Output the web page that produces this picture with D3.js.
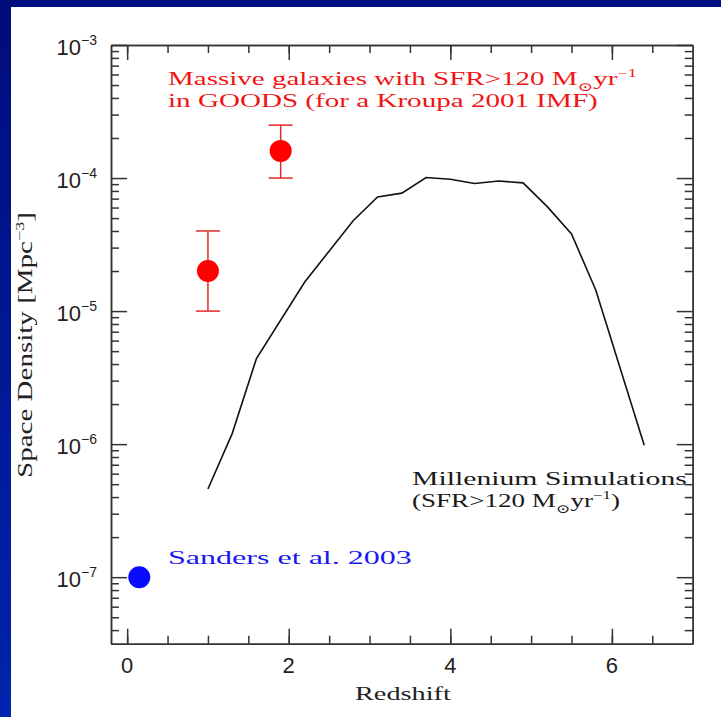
<!DOCTYPE html>
<meta charset="utf-8">
<style>
  body { margin: 0; background: #fff; }
  svg { display: block; }
  .serif { font-family: "Liberation Serif", "DejaVu Serif", serif; }
  .sans { font-family: "Liberation Sans", Arial, sans-serif; }
  .axis path, .axis line { stroke: #333; stroke-width: 1.5; }
</style>
<body>
<div id="chart"></div>
<script src="https://d3js.org/d3.v7.min.js"></script>
<script>

var width = 721,
    height = 717;

var margin = {top: 45, right: 28.3, bottom: 73.3, left: 111};

// Millennium simulation curve (SFR>120)
var simZ       = [1.0, 1.3, 1.6, 2.2, 2.8, 3.1, 3.4, 3.7, 4.0, 4.3, 4.6, 4.9, 5.2, 5.5, 5.8, 6.4];
var simDensity = [4.6e-7, 1.2e-6, 4.4e-6, 1.66e-5, 4.8e-5, 7.2e-5, 7.7e-5, 1.01e-4, 9.8e-5, 9.1e-5, 9.5e-5, 9.2e-5, 6.1e-5, 3.8e-5, 1.44e-5, 9.8e-7];

// GOODS massive galaxies
var goodsZ       = [1.0, 1.9];
var goodsDensity = [2.0e-5, 1.6e-4];
var goodsLow     = [1.0e-5, 1.0e-4];
var goodsHigh    = [4.0e-5, 2.5e-4];

// Sanders et al. 2003
var sandersZ       = [0.15];
var sandersDensity = [1.0e-7];

// ticks
var xMajor = [0, 2, 4, 6];
var xMinor = [0, 0.5, 1, 1.5, 2, 2.5, 3, 3.5, 4, 4.5, 5, 5.5, 6, 6.5];
var yDecades = [-7, -6, -5, -4, -3];

var svg = d3.select("#chart").append("svg")
    .attr("width", width)
    .attr("height", height);

// slide frame
var defs = svg.append("defs");
var grad = defs.append("linearGradient").attr("id", "sideGrad")
    .attr("x1", 0).attr("y1", 0).attr("x2", 0).attr("y2", 1);
grad.append("stop").attr("offset", "0%").attr("stop-color", "#000c7c");
grad.append("stop").attr("offset", "100%").attr("stop-color", "#0024ae");

svg.append("rect").attr("width", width).attr("height", height).attr("fill", "#fff");
svg.append("rect").attr("width", width).attr("height", 7).attr("fill", "#000f80");
svg.append("rect").attr("width", 11).attr("height", height).attr("fill", "url(#sideGrad)");

var x = d3.scaleLinear()
    .domain([-0.2, 7])
    .range([margin.left, width - margin.right]);

var y = d3.scaleLog()
    .domain([Math.pow(10, -7.5), 1e-3])
    .range([height - margin.bottom, margin.top]);

var yMinor = [];
yDecades.forEach(function(d) {
  for (var m = 2; m <= 9; m++) {
    var v = m * Math.pow(10, d - 1);
    if (v >= y.domain()[0] && v <= y.domain()[1]) yMinor.push(v);
  }
});
var yMajor = yDecades.map(function(d) { return Math.pow(10, d); });

var x0 = x.range()[0], x1 = x.range()[1],
    y0 = y.range()[0], y1 = y.range()[1];

function addAxis(gen, tx, ty, values, size) {
  svg.append("g")
      .attr("class", "axis")
      .attr("transform", "translate(" + tx + "," + ty + ")")
      .call(gen.tickValues(values).tickSize(size).tickSizeOuter(0).tickFormat(""))
      .call(function(g) { g.select(".domain").attr("fill", "none"); });
}

// ticks point inward on all four sides
addAxis(d3.axisBottom(x), 0, y0, xMinor, -8);
addAxis(d3.axisBottom(x), 0, y0, xMajor, -15);
addAxis(d3.axisTop(x), 0, y1, xMinor, -8);
addAxis(d3.axisTop(x), 0, y1, xMajor, -15);
addAxis(d3.axisLeft(y), x0, 0, yMinor, -8);
addAxis(d3.axisLeft(y), x0, 0, yMajor, -16);
addAxis(d3.axisRight(y), x1, 0, yMinor, -8);
addAxis(d3.axisRight(y), x1, 0, yMajor, -16);

// x tick labels
svg.append("g").selectAll("text")
    .data(xMajor)
  .enter().append("text")
    .attr("class", "sans")
    .attr("x", function(d) { return x(d); })
    .attr("y", y0 + 29)
    .attr("text-anchor", "middle")
    .attr("font-size", 22)
    .attr("fill", "#222")
    .text(function(d) { return d; });

// y tick labels 10^n
var yl = svg.append("g").selectAll("text")
    .data(yDecades)
  .enter().append("text")
    .attr("class", "sans")
    .attr("x", 97)
    .attr("y", function(d) { return y(Math.pow(10, d)) + 10; })
    .attr("text-anchor", "end")
    .attr("font-size", 22)
    .attr("fill", "#222");
yl.append("tspan").text("10");
yl.append("tspan")
    .attr("font-size", 14)
    .attr("dy", -10)
    .text(function(d) { return "\u2212" + (-d); });

// stretched serif text, to look like the plotting package font
function richText(parts, px, py, targetWidth, size, color, rotate) {
  var g = svg.append("g");
  var t = g.append("text")
      .attr("class", "serif")
      .attr("font-size", size)
      .attr("fill", color);
  var shift = 0;
  parts.forEach(function(p) {
    var s = t.append("tspan").text(p[0]);
    var target = 0, fs = size;
    if (p[1] === "sub") { target = size * 0.3; fs = size * 0.65; }
    if (p[1] === "sup") { target = -size * 0.42; fs = size * 0.62; }
    s.attr("font-size", fs).attr("dy", target - shift);
    shift = target;
  });
  var w = t.node().getBBox().width;
  var k = targetWidth / w;
  g.attr("transform", "translate(" + px + "," + py + ")" +
      (rotate ? " rotate(" + rotate + ")" : "") + " scale(" + k + ",1)");
  return g;
}

var red = "#f01414", blue = "#1818f0";

richText([["Massive galaxies with SFR>120 M", "n"], ["\u2299", "sub"], ["yr", "n"], ["\u22121", "sup"]],
    168, 85, 469, 19, red);
richText([["in GOODS (for a Kroupa 2001 IMF)", "n"]], 168, 107, 430, 19, red);

richText([["Millenium Simulations", "n"]], 412, 485, 275, 19, "#1a1a1a");
richText([["(SFR>120 M", "n"], ["\u2299", "sub"], ["yr", "n"], ["\u22121", "sup"], [")", "n"]],
    412, 507, 208, 19, "#1a1a1a");

richText([["Sanders et al. 2003", "n"]], 168, 564, 244, 19, blue);

richText([["Redshift", "n"]], 355, 700, 97, 19, "#222");
richText([["Space Density [Mpc", "n"], ["\u22123", "sup"], ["]", "n"]], 32, 478, 266, 20, "#222", -90);

// simulation curve
var line = d3.line()
    .x(function(d) { return x(d[0]); })
    .y(function(d) { return y(d[1]); });

svg.append("path")
    .datum(d3.zip(simZ, simDensity))
    .attr("fill", "none")
    .attr("stroke", "#111")
    .attr("stroke-width", 1.6)
    .attr("d", line);

// GOODS error bars and points
var goods = d3.range(goodsZ.length).map(function(i) {
  return {z: goodsZ[i], v: goodsDensity[i], lo: goodsLow[i], hi: goodsHigh[i]};
});
var eb = svg.append("g").attr("stroke", "#e22a2a").attr("stroke-width", 1.5);
eb.selectAll(".v").data(goods).enter().append("line")
    .attr("x1", function(d) { return x(d.z); })
    .attr("x2", function(d) { return x(d.z); })
    .attr("y1", function(d) { return y(d.lo); })
    .attr("y2", function(d) { return y(d.hi); });
["lo", "hi"].forEach(function(k) {
  eb.selectAll(".c" + k).data(goods).enter().append("line")
      .attr("x1", function(d) { return x(d.z) - 12; })
      .attr("x2", function(d) { return x(d.z) + 12; })
      .attr("y1", function(d) { return y(d[k]); })
      .attr("y2", function(d) { return y(d[k]); });
});
svg.append("g").selectAll("circle")
    .data(goods)
  .enter().append("circle")
    .attr("cx", function(d) { return x(d.z); })
    .attr("cy", function(d) { return y(d.v); })
    .attr("r", 11)
    .attr("fill", "#ff0000");

svg.append("g").selectAll("circle")
    .data(d3.zip(sandersZ, sandersDensity))
  .enter().append("circle")
    .attr("cx", function(d) { return x(d[0]); })
    .attr("cy", function(d) { return y(d[1]); })
    .attr("r", 11)
    .attr("fill", "#0a0aff");

</script>
</body>
